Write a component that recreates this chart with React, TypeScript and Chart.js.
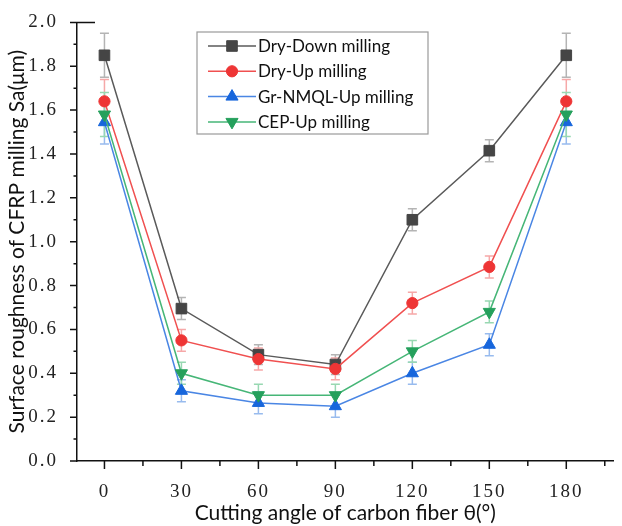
import { useEffect, useRef } from 'react';
import { Chart, registerables } from 'chart.js';
import { drawPoint } from 'chart.js/helpers';

Chart.register(...registerables);

// ---- data ----
const angles = [0, 30, 60, 90, 120, 150, 180];
const minorAngles = [15, 45, 75, 105, 135, 165, 195];
const yTickValues = [0, 0.2, 0.4, 0.6, 0.8, 1.0, 1.2, 1.4, 1.6, 1.8, 2.0];
const yMinorValues = [0.1, 0.3, 0.5, 0.7, 0.9, 1.1, 1.3, 1.5, 1.7, 1.9];

const seriesNames = ['Dry-Down milling', 'Dry-Up milling', 'Gr-NMQL-Up milling', 'CEP-Up milling'];

const dryDown = [1.85, 0.695, 0.485, 0.44, 1.10, 1.415, 1.85];
const dryDownErr = [0.10, 0.05, 0.045, 0.045, 0.05, 0.05, 0.10];

const dryUp = [1.64, 0.55, 0.465, 0.42, 0.72, 0.885, 1.64];
const dryUpErr = [0.10, 0.05, 0.05, 0.05, 0.05, 0.05, 0.10];

const grNmqlUp = [1.545, 0.32, 0.265, 0.25, 0.40, 0.53, 1.545];
const grNmqlUpErr = [0.10, 0.05, 0.05, 0.05, 0.05, 0.05, 0.10];

const cepUp = [1.58, 0.40, 0.30, 0.30, 0.50, 0.68, 1.58];
const cepUpErr = [0.10, 0.05, 0.05, 0.05, 0.05, 0.05, 0.10];

const xTitle = 'Cutting angle of carbon fiber θ(°)';
const yTitle = 'Surface roughness of CFRP milling Sa(μm)';

const seriesValues = [dryDown, dryUp, grNmqlUp, cepUp];
const seriesErrors = [dryDownErr, dryUpErr, grNmqlUpErr, cepUpErr];
const lineColors = ['#5a5a5a', '#f05050', '#4a86e4', '#46b677'];
const markerColors = ['#454545', '#ee3535', '#1766dc', '#25a05c'];
const errColors = ['#b4b4b4', '#f6a8a8', '#98bbee', '#98d8b2'];
const markerStyles = ['rect', 'circle', 'triangle', 'triangle'];
const markerRadius = [7.5, 5.6, 7, 7];
const markerRotation = [0, 0, 0, 180];

const errorBarPlugin = {
  id: 'errorBars',
  beforeDatasetsDraw(chart: any) {
    const { ctx, scales } = chart;
    const x = scales.x;
    const y = scales.y;
    ctx.save();
    ctx.lineWidth = 1.5;
    for (let s = 0; s < seriesValues.length; s++) {
      ctx.strokeStyle = errColors[s];
      const vals = seriesValues[s];
      const errs = seriesErrors[s];
      for (let j = 0; j < angles.length; j++) {
        const px = x.getPixelForValue(angles[j]);
        const pt = y.getPixelForValue(vals[j] + errs[j]);
        const pb = y.getPixelForValue(vals[j] - errs[j]);
        ctx.beginPath();
        ctx.moveTo(px, pt);
        ctx.lineTo(px, pb);
        ctx.moveTo(px - 4.5, pt);
        ctx.lineTo(px + 4.5, pt);
        ctx.moveTo(px - 4.5, pb);
        ctx.lineTo(px + 4.5, pb);
        ctx.stroke();
      }
    }
    ctx.restore();
  },
};

const tickSpacingPlugin = {
  id: 'tickSpacing',
  beforeDraw(chart: any) {
    for (const id of ['x', 'y']) {
      const s = chart.scales[id];
      if (!s || s.__spaced) continue;
      const orig = s.drawLabels.bind(s);
      s.drawLabels = (area: any) => {
        const c = s.ctx;
        c.save();
        (c as any).letterSpacing = '2px';
        orig(area);
        c.restore();
      };
      s.__spaced = true;
    }
  },
};

const axisTickPlugin = {
  id: 'axisTicks',
  afterDraw(chart: any) {
    const { ctx, scales, chartArea } = chart;
    const x = scales.x;
    const y = scales.y;
    ctx.save();
    ctx.strokeStyle = '#111';
    ctx.lineWidth = 1.5;
    ctx.beginPath();
    for (const v of yTickValues) {
      const py = y.getPixelForValue(v);
      ctx.moveTo(chartArea.left - 7, py);
      ctx.lineTo(chartArea.left, py);
    }
    for (const v of yMinorValues) {
      const py = y.getPixelForValue(v);
      ctx.moveTo(chartArea.left - 3.5, py);
      ctx.lineTo(chartArea.left, py);
    }
    for (const v of angles) {
      const px = x.getPixelForValue(v);
      ctx.moveTo(px, chartArea.bottom);
      ctx.lineTo(px, chartArea.bottom + 8);
    }
    for (const v of minorAngles) {
      const px = x.getPixelForValue(v);
      if (px > chartArea.right) continue;
      ctx.moveTo(px, chartArea.bottom);
      ctx.lineTo(px, chartArea.bottom + 5);
    }
    const topY = y.getPixelForValue(2.0);
    ctx.moveTo(chartArea.left, topY);
    ctx.lineTo(chartArea.left + 18, topY);
    ctx.stroke();
    ctx.restore();
  },
};

const legendPlugin = {
  id: 'boxLegend',
  afterDraw(chart: any) {
    const { ctx } = chart;
    const bx = 197;
    const by = 32;
    const bw = 231;
    const bh = 102;
    ctx.save();
    ctx.fillStyle = '#ffffff';
    ctx.fillRect(bx, by, bw, bh);
    ctx.strokeStyle = '#9a9a9a';
    ctx.lineWidth = 1.2;
    ctx.strokeRect(bx, by, bw, bh);
    for (let i = 0; i < seriesNames.length; i++) {
      const cy = by + 14 + i * 25.3;
      ctx.strokeStyle = lineColors[i];
      ctx.lineWidth = 1.5;
      ctx.beginPath();
      ctx.moveTo(bx + 11, cy);
      ctx.lineTo(bx + 59, cy);
      ctx.stroke();
      ctx.fillStyle = markerColors[i];
      ctx.strokeStyle = markerColors[i];
      ctx.lineWidth = 1;
      drawPoint(ctx, {
        pointStyle: markerStyles[i] as any,
        radius: markerRadius[i],
        rotation: markerRotation[i],
        borderWidth: 1,
      } as any, bx + 35, cy);
      ctx.fillStyle = '#111';
      ctx.font = '17px Lato';
      ctx.textBaseline = 'middle';
      ctx.textAlign = 'left';
      ctx.fillText(seriesNames[i], bx + 61, cy + 0.5);
    }
    ctx.restore();
  },
};

export default function App() {
  const canvasRef = useRef<HTMLCanvasElement | null>(null);

  useEffect(() => {
    const canvas = canvasRef.current;
    if (!canvas) return;
    const datasets = seriesNames.map((name, i) => ({
      label: name,
      data: angles.map((a, j) => ({ x: a, y: seriesValues[i][j] })),
      borderColor: lineColors[i],
      backgroundColor: markerColors[i],
      borderWidth: 1.5,
      pointStyle: markerStyles[i],
      pointRadius: markerRadius[i],
      pointRotation: markerRotation[i],
      pointBackgroundColor: markerColors[i],
      pointBorderColor: markerColors[i],
      pointBorderWidth: 1,
      tension: 0,
      fill: false,
      order: 4 - i,
    }));

    const chart = new Chart(canvas, {
      type: 'line',
      data: { datasets },
      options: {
        animation: false,
        responsive: false,
        devicePixelRatio: 1,
        layout: { padding: { top: 13.5, right: 0, bottom: 0, left: 0 } },
        plugins: {
          legend: { display: false },
          tooltip: { enabled: false },
        },
        scales: {
          x: {
            type: 'linear',
            min: -10.7,
            max: 198.4,
            afterBuildTicks: (s: any) => {
              s.ticks = angles.map((v) => ({ value: v }));
            },
            afterFit: (s: any) => {
              s.height = 65;
            },
            grid: { display: false },
            border: { display: true, color: '#111', width: 1.5 },
            ticks: {
              font: { family: 'Liberation Serif', size: 19 },
              color: '#222',
              padding: 12,
              maxRotation: 0,
              autoSkip: false,
              callback: (v: any) => String(v),
            },
            title: {
              display: true,
              text: xTitle,
              color: '#111',
              font: { family: 'Lato', size: 21 },
              padding: { top: 0, bottom: 0 },
            },
          },
          y: {
            type: 'linear',
            min: 0,
            max: 2,
            afterBuildTicks: (s: any) => {
              s.ticks = yTickValues.map((v) => ({ value: v }));
            },
            afterFit: (s: any) => {
              s.width = 77;
            },
            grid: { display: false },
            border: { display: true, color: '#111', width: 1.5 },
            ticks: {
              font: { family: 'Liberation Serif', size: 19 },
              color: '#222',
              padding: 11,
              callback: (v: any) => Number(v).toFixed(1),
            },
            title: {
              display: true,
              text: yTitle,
              color: '#111',
              font: { family: 'Lato', size: 21 },
              padding: { top: 5, bottom: 0 },
            },
          },
        },
      },
      plugins: [tickSpacingPlugin, errorBarPlugin, axisTickPlugin, legendPlugin],
    } as any);

    return () => {
      chart.destroy();
    };
  }, []);

  return (
    <div style={{ position: 'absolute', left: 0, top: 0, width: 622, height: 526, background: '#fff' }}>
      <canvas ref={canvasRef} width={622} height={526} style={{ display: 'block' }} />
    </div>
  );
}
